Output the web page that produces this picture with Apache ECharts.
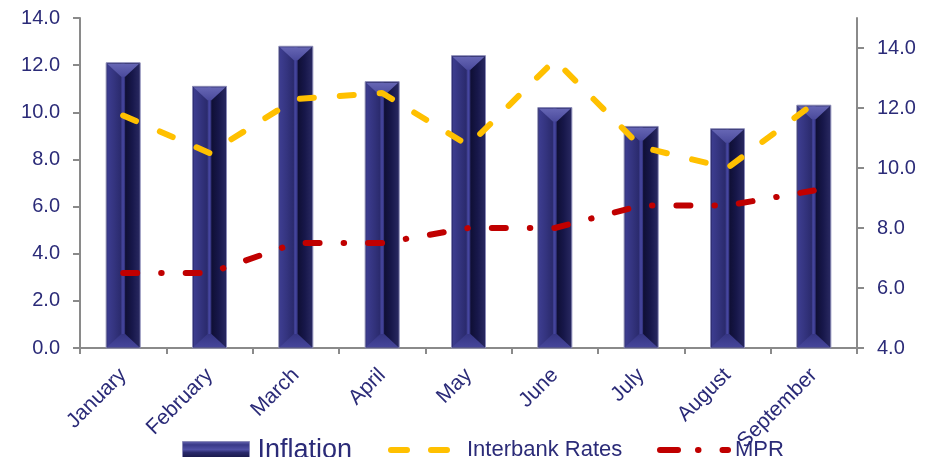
<!DOCTYPE html>
<html>
<head>
<meta charset="utf-8">
<script src="https://cdn.jsdelivr.net/npm/echarts@6/dist/echarts.min.js"></script>
<style>
  html, body { margin: 0; padding: 0; background: #ffffff; }
  #chart { width: 936px; height: 457px; }
</style>
</head>
<body>
<div id="chart"></div>
<script>
// Monthly figures
const months = ['January', 'February', 'March', 'April', 'May', 'June', 'July', 'August', 'September'];
const inflation = [12.1, 11.1, 12.8, 11.3, 12.4, 10.2, 9.4, 9.3, 10.3];
const interbankRates = [11.75, 10.5, 12.3, 12.5, 10.75, 13.6, 10.7, 10.0, 12.15];
const mpr = [6.5, 6.5, 7.5, 7.5, 8.0, 8.0, 8.75, 8.75, 9.25];

// Axis ticks
const leftTicks = [0, 2, 4, 6, 8, 10, 12, 14];
const rightTicks = [4, 6, 8, 10, 12, 14];

const TEXT = '#2b2b78';
const FONT = '"Liberation Sans", Arial, Helvetica, sans-serif';

// Bevelled column: outer body, two side faces, central ridge, top and bottom bevels
function renderBevelBar(params, api) {
  const top = api.coord([api.value(0), api.value(1)]);
  const base = api.coord([api.value(0), 0]);
  const w = 34;
  const x0 = top[0] - w / 2, x1 = x0 + w;
  const y0 = top[1], y1 = base[1];
  const rl = x0 + 15, rr = x0 + 19;         // ridge edges
  const bev = Math.min(14, (y1 - y0) / 2);
  const lg = (stops, vertical) => new echarts.graphic.LinearGradient(0, 0, vertical ? 0 : 1, vertical ? 1 : 0,
    stops.map((c, i) => ({ offset: i / (stops.length - 1), color: c })));
  return {
    type: 'group',
    children: [
      { type: 'rect', shape: { x: x0, y: y0, width: w, height: y1 - y0 },
        style: { fill: '#23235c', stroke: '#8c8cb8', lineWidth: 1 } },
      { type: 'rect', shape: { x: x0 + 1, y: y0 + 1, width: rl - x0 - 1, height: y1 - y0 - 2 },
        style: { fill: lg(['#3d3d90', '#34347f', '#2a2a6c'], false) } },
      { type: 'rect', shape: { x: rl, y: y0 + 1, width: rr - rl, height: y1 - y0 - 2 },
        style: { fill: lg(['#3a3a88', '#4646a0', '#2c2c70'], false) } },
      { type: 'rect', shape: { x: rr, y: y0 + 1, width: x1 - rr - 1, height: y1 - y0 - 2 },
        style: { fill: lg(['#0f0f34', '#17174a', '#27275f'], false) } },
      { type: 'polygon', shape: { points: [[x0 + 1, y0 + 1], [x1 - 1, y0 + 1], [rr, y0 + bev], [rl, y0 + bev]] },
        style: { fill: lg(['#6666b4', '#4a4a9c'], true) } },
      { type: 'polygon', shape: { points: [[x0 + 1, y1 - 1], [x1 - 1, y1 - 1], [rr, y1 - bev], [rl, y1 - bev]] },
        style: { fill: lg(['#353582', '#45459a'], true) } }
    ]
  };
}

const chart = echarts.init(document.getElementById('chart'), null, { renderer: 'canvas' });

const legendBase = {
  orient: 'horizontal',
  padding: 0,
  textStyle: { color: TEXT, fontFamily: FONT },
  selectedMode: false
};

chart.setOption({
  animation: false,
  backgroundColor: '#ffffff',
  textStyle: { fontFamily: FONT },
  grid: { left: 80, right: 79, top: 18, bottom: 109, containLabel: false },
  legend: [
    Object.assign({}, legendBase, {
      left: 182, top: 437, itemWidth: 67, itemHeight: 18,
      data: [{
        name: 'Inflation',
        icon: 'rect',
        itemStyle: {
          color: new echarts.graphic.LinearGradient(0, 0, 0, 1, [
            { offset: 0, color: '#6a6ab4' }, { offset: 0.2, color: '#3a3a88' },
            { offset: 0.45, color: '#5050a4' }, { offset: 0.6, color: '#2a2a6c' },
            { offset: 0.85, color: '#1a1a4c' }, { offset: 1, color: '#2c2c6a' }
          ]),
          borderColor: '#8c8cb8', borderWidth: 1
        },
        textStyle: { fontSize: 27, padding: [0, 0, 0, 3] }
      }]
    }),
    Object.assign({}, legendBase, {
      left: 388, top: 439, itemWidth: 64, itemHeight: 14,
      data: [{ name: 'Interbank Rates', itemStyle: { opacity: 0 },
               lineStyle: { width: 6, color: '#ffc000', type: [16, 24], cap: 'round' },
               textStyle: { fontSize: 22, padding: [0, 0, 0, 7] } }]
    }),
    Object.assign({}, legendBase, {
      left: 657, top: 439, itemWidth: 68, itemHeight: 14,
      data: [{ name: 'MPR', itemStyle: { opacity: 0 },
               lineStyle: { width: 6, color: '#c00000', type: [18, 20, 0.5, 24], cap: 'round' },
               textStyle: { fontSize: 22, padding: [0, 0, 0, 2] } }]
    })
  ],
  xAxis: {
    type: 'category',
    data: months,
    boundaryGap: true,
    axisLine: { lineStyle: { color: '#8a8a8a', width: 2 } },
    axisTick: { show: true, length: 6, lineStyle: { color: '#8a8a8a', width: 2 } },
    axisLabel: { rotate: 45, margin: 24, color: TEXT, fontSize: 21, fontFamily: FONT, interval: 0 },
    splitLine: { show: false }
  },
  yAxis: [
    {
      type: 'value', position: 'left',
      min: leftTicks[0], max: leftTicks[leftTicks.length - 1], interval: 2,
      axisLine: { show: true, lineStyle: { color: '#8a8a8a', width: 2 } },
      axisTick: { show: true, length: 7, lineStyle: { color: '#8a8a8a', width: 2 } },
      axisLabel: { color: TEXT, fontSize: 20, fontFamily: FONT, margin: 20,
                   formatter: v => v.toFixed(1) },
      splitLine: { show: false }
    },
    {
      type: 'value', position: 'right',
      min: rightTicks[0], max: 15, interval: 2,
      axisLine: { show: true, lineStyle: { color: '#8a8a8a', width: 2 } },
      axisTick: { show: true, length: 7, lineStyle: { color: '#8a8a8a', width: 2 },
                  customValues: rightTicks },
      axisLabel: { color: TEXT, fontSize: 20, fontFamily: FONT, margin: 20,
                   customValues: rightTicks, formatter: v => v.toFixed(1) },
      splitLine: { show: false }
    }
  ],
  series: [
    {
      name: 'Inflation',
      type: 'custom',
      yAxisIndex: 0,
      renderItem: renderBevelBar,
      itemStyle: { color: '#33337e' },
      encode: { x: 0, y: 1 },
      data: inflation.map((v, i) => [months[i], v]),
      z: 2
    },
    {
      name: 'Interbank Rates',
      type: 'line',
      yAxisIndex: 1,
      data: interbankRates,
      symbol: 'none',
      itemStyle: { color: '#ffc000' },
      lineStyle: { color: '#ffc000', width: 6, type: [14, 26], cap: 'round' },
      z: 3
    },
    {
      name: 'MPR',
      type: 'line',
      yAxisIndex: 1,
      data: mpr,
      symbol: 'none',
      itemStyle: { color: '#c00000' },
      lineStyle: { color: '#c00000', width: 6, type: [14, 24, 0.5, 24], cap: 'round' },
      z: 3
    }
  ]
});
</script>
</body>
</html>
